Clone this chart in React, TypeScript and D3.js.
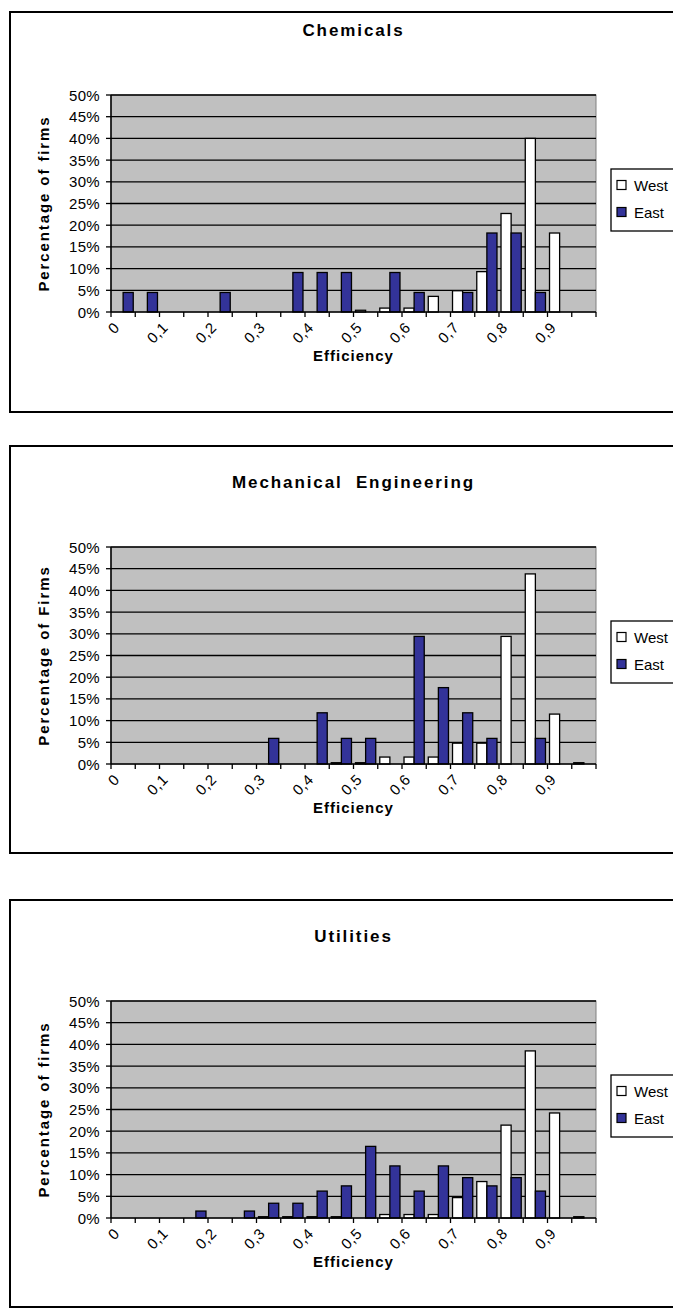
import React from "react";
import * as d3 from "d3";

// Efficiency bins (0 to 0.95 by 0.05)
const bins = ["0","0,05","0,1","0,15","0,2","0,25","0,3","0,35","0,4","0,45","0,5","0,55","0,6","0,65","0,7","0,75","0,8","0,85","0,9","0,95"];
const tickLabelBins = ["0","0,1","0,2","0,3","0,4","0,5","0,6","0,7","0,8","0,9"];
const yTicks = [0,5,10,15,20,25,30,35,40,45,50];
const seriesNames = ["West","East"];

const chemicalsWest = [0,0,0,0,0,0,0,0,0,0,0.4,0.9,0.9,3.6,4.9,9.3,22.7,40.0,18.2,0];
const chemicalsEast = [4.5,4.5,0,0,4.5,0,0,9.1,9.1,9.1,0,9.1,4.5,0,4.5,18.2,18.2,4.5,0,0];

const mechWest = [0,0,0,0,0,0,0,0,0,0.3,0.3,1.6,1.6,1.6,4.8,4.8,29.4,43.8,11.5,0.3];
const mechEast = [0,0,0,0,0,0,5.9,0,11.8,5.9,5.9,0,29.4,17.6,11.8,5.9,0,5.9,0,0];

const utilWest = [0,0,0,0,0,0,0.3,0.3,0.3,0.3,0,0.8,0.8,0.8,4.7,8.4,21.4,38.5,24.2,0.3];
const utilEast = [0,0,0,1.6,0,1.6,3.4,3.4,6.2,7.4,16.5,12.0,6.2,12.0,9.3,7.4,9.3,6.2,0,0];

const panels = [
  { title: "Chemicals", yTitle: "Percentage of firms", west: chemicalsWest, east: chemicalsEast },
  { title: "Mechanical  Engineering", yTitle: "Percentage of Firms", west: mechWest, east: mechEast },
  { title: "Utilities", yTitle: "Percentage of firms", west: utilWest, east: utilEast },
];

const FONT = "'Liberation Sans', Arial, sans-serif";
const PLOT_L = 111;
const PLOT_R = 596;
const PLOT_H = 217;
const BOTTOMS = [312, 764, 1218];
const BOX_TOPS = [12, 446, 900];
const BOX_BOTTOMS = [412, 853, 1307];
const EAST_COLOR = "#333399";

function Panel({ p, B, boxTop, boxBottom }: { p: any; B: number; boxTop: number; boxBottom: number }) {
  const x = d3.scaleBand<string>().domain(bins).range([PLOT_L, PLOT_R]).paddingInner(0).paddingOuter(0);
  const sub = d3.scaleBand<string>().domain(seriesNames).range([0, x.bandwidth()]).paddingInner(0).paddingOuter(0.2);
  const y = d3.scaleLinear().domain([0, 50]).range([B, B - PLOT_H]);
  const top = y(50);
  const tickXs = bins.map((b) => x(b) as number).concat([PLOT_R]);
  const cx = (PLOT_L + PLOT_R) / 2;
  const bars: any[] = [];
  bins.forEach((b, i) => {
    [p.west[i], p.east[i]].forEach((v: number, s: number) => {
      if (v <= 0) return;
      const bx = (x(b) as number) + (sub(seriesNames[s]) as number);
      bars.push(
        <rect key={b + s} x={bx} y={y(v)} width={sub.bandwidth()} height={B - y(v)}
          fill={s === 0 ? "#ffffff" : EAST_COLOR} stroke="#000" strokeWidth={1.3} />
      );
    });
  });
  return (
    <g>
      <rect x={10} y={boxTop} width={700} height={boxBottom - boxTop} fill="#fff" stroke="#000" strokeWidth={2} />
      <text x={cx} y={B - 282} textAnchor="middle" dominantBaseline="central" fontFamily={FONT}
        fontWeight="bold" fontSize={17} letterSpacing={1.9} style={{ whiteSpace: "pre" }}>{p.title}</text>
      {/* plot area */}
      <rect x={PLOT_L} y={top} width={PLOT_R - PLOT_L} height={PLOT_H} fill="#C0C0C0" stroke="#808080" strokeWidth={1} />
      {yTicks.filter((t) => t > 0).map((t) => (
        <line key={"g" + t} x1={PLOT_L} x2={PLOT_R} y1={y(t)} y2={y(t)} stroke="#000" strokeWidth={1.3} />
      ))}
      {bars}
      <line x1={PLOT_L} x2={PLOT_R} y1={B} y2={B} stroke="#000" strokeWidth={1.5} />
      <line x1={PLOT_L} x2={PLOT_L} y1={top} y2={B} stroke="#000" strokeWidth={1.5} />
      {yTicks.map((t) => (
        <g key={"yt" + t}>
          <line x1={PLOT_L - 5} x2={PLOT_L} y1={y(t)} y2={y(t)} stroke="#000" strokeWidth={1.3} />
          <text x={PLOT_L - 11} y={y(t)} textAnchor="end" dominantBaseline="central" fontFamily={FONT}
            fontSize={15} letterSpacing={0.3}>{t + "%"}</text>
        </g>
      ))}
      {tickXs.map((tx, i) => (
        <line key={"xt" + i} x1={tx} x2={tx} y1={B} y2={B + 5} stroke="#000" strokeWidth={1.3} />
      ))}
      {tickLabelBins.map((lab) => {
        const tx = x(lab) as number;
        return (
          <text key={"xl" + lab} transform={`translate(${tx + 2},${B + 9}) rotate(-45)`} textAnchor="end"
            dy="0.71em" fontFamily={FONT} fontSize={15} letterSpacing={0.5}>{lab}</text>
        );
      })}
      <text x={cx} y={B + 43} textAnchor="middle" dominantBaseline="central" fontFamily={FONT}
        fontWeight="bold" fontSize={15} letterSpacing={1}>Efficiency</text>
      <text transform={`translate(43,${(top + B) / 2}) rotate(-90)`} textAnchor="middle" dominantBaseline="central"
        fontFamily={FONT} fontWeight="bold" fontSize={15} letterSpacing={1.9}>{p.yTitle}</text>
      {/* legend */}
      <rect x={611} y={B - 143} width={90} height={62} fill="#fff" stroke="#000" strokeWidth={1.3} />
      {seriesNames.map((s, i) => {
        const ly = B - 127 + i * 27;
        return (
          <g key={"lg" + s}>
            <rect x={617} y={ly - 4.5} width={9} height={9} fill={i === 0 ? "#fff" : EAST_COLOR} stroke="#000" strokeWidth={1.2} />
            <text x={634} y={ly} dominantBaseline="central" fontFamily={FONT} fontSize={15}>{s}</text>
          </g>
        );
      })}
    </g>
  );
}

export default function App() {
  return (
    <svg width={673} height={1316} style={{ position: "absolute", left: 0, top: 0, display: "block" }}>
      <rect x={0} y={0} width={673} height={1316} fill="#fff" />
      {panels.map((p, i) => (
        <Panel key={p.title} p={p} B={BOTTOMS[i]} boxTop={BOX_TOPS[i]} boxBottom={BOX_BOTTOMS[i]} />
      ))}
    </svg>
  );
}
